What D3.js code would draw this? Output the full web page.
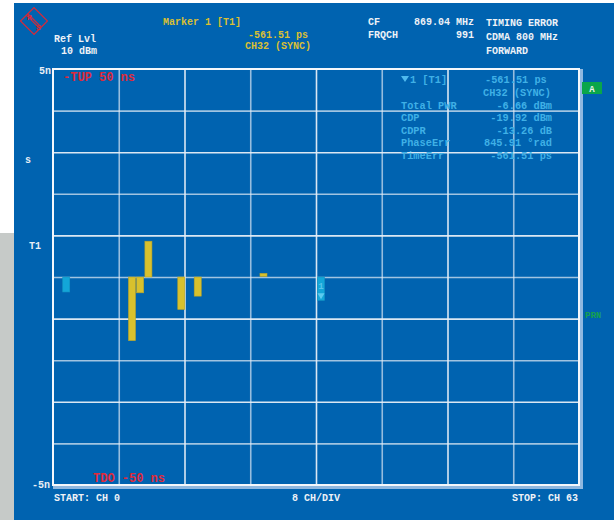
<!DOCTYPE html>
<html>
<head>
<meta charset="utf-8">
<script src="https://cdn.jsdelivr.net/npm/d3@7"></script>
<style>
  html, body { margin: 0; padding: 0; background: #ffffff; }
  svg { display: block; }
  text { font-family: "Liberation Mono", "DejaVu Sans Mono", monospace; font-weight: bold; }
</style>
</head>
<body>
<svg id="chart" width="614" height="520"></svg>
<script>
// Code domain timing error per channel (ns), CDMA 800 MHz forward link
const activeChannels = [1, 9, 10, 11, 15, 17, 25, 32];
const timingErrorNs  = [-0.36, -1.53, -0.38, 0.86, -0.78, -0.46, 0.05, -0.56151];
const channelKind    = ["pilot", "traffic", "traffic", "traffic", "traffic", "traffic", "traffic", "sync"];

const yTickLabels = ["5n", "-5n"];
const headerLeft  = ["Ref Lvl", "10 dBm"];
const markerInfo  = ["Marker 1 [T1]", "-561.51 ps", "CH32 (SYNC)"];
const headerMid   = [["CF", "869.04 MHz"], ["FRQCH", "991"]];
const headerRight = ["TIMING ERROR", "CDMA 800 MHz", "FORWARD"];
const resultNames  = ["Total PWR", "CDP", "CDPR", "PhaseErr", "TimeErr"];
const resultValues = ["-6.66 dBm", "-19.92 dBm", "-13.26 dB", "845.91 °rad", "-561.51 ps"];
const footer = ["START: CH 0", "8 CH/DIV", "STOP: CH 63"];

const svg = d3.select("#chart");
const W = 614, H = 520;
const plot = { left: 53, right: 579, top: 69, bottom: 485 };

// Screen background
svg.append("rect").attr("x", 0).attr("y", 0).attr("width", W).attr("height", H).attr("fill", "#ffffff");
svg.append("rect").attr("x", 0).attr("y", 233).attr("width", 14).attr("height", H - 233).attr("fill", "#c6cac8");
svg.append("rect").attr("x", 14).attr("y", 3).attr("width", W - 14).attr("height", H - 3).attr("fill", "#0063b0");

const x = d3.scaleLinear().domain([0, 64]).range([plot.left, plot.right]);
const y = d3.scaleLinear().domain([-5, 5]).range([plot.bottom, plot.top]);

// Grid: 8 channel divisions, 10 vertical divisions
const grid = svg.append("g");
const xGrid = d3.axisBottom(x).tickValues(d3.range(8, 64, 8)).tickSize(-(plot.bottom - plot.top)).tickFormat("");
const yGrid = d3.axisLeft(y).tickValues(d3.range(-4, 5, 1)).tickSize(-(plot.right - plot.left)).tickFormat("");
grid.append("g").attr("transform", `translate(0,${plot.bottom})`).call(xGrid)
  .call(g => g.select(".domain").remove())
  .selectAll("line").attr("stroke", "#e6eef7").attr("stroke-width", 1.6)
  .attr("stroke-opacity", (d, i) => i % 2 === 0 ? 0.65 : 0.95);
grid.append("g").attr("transform", `translate(${plot.left},0)`).call(yGrid)
  .call(g => g.select(".domain").remove())
  .selectAll("line").attr("stroke", "#e6eef7").attr("stroke-width", 1.6)
  .attr("stroke-opacity", (d, i) => i % 2 === 0 ? 0.7 : 0.95);

// Frame with light edge shading
svg.append("rect").attr("x", plot.right + 1).attr("y", plot.top).attr("width", 3).attr("height", plot.bottom - plot.top + 3).attr("fill", "#8fb8e0");
svg.append("rect").attr("x", plot.left).attr("y", plot.bottom + 1).attr("width", plot.right - plot.left + 4).attr("height", 3).attr("fill", "#8fb8e0");
svg.append("rect").attr("x", plot.left).attr("y", plot.top).attr("width", plot.right - plot.left).attr("height", plot.bottom - plot.top)
  .attr("fill", "none").attr("stroke", "#f4f7fb").attr("stroke-width", 2);

// Channel bars
const colors = { pilot: "#13a6d8", sync: "#13a6d8", traffic: "#d8c12d" };
const bw = x(1) - x(0);
svg.append("g").selectAll("rect").data(activeChannels).join("rect")
  .attr("x", d => x(d) + 1.5)
  .attr("width", bw - 1.2)
  .attr("y", (d, i) => Math.min(y(0), y(timingErrorNs[i])) - (Math.abs(timingErrorNs[i]) < 0.1 ? 1.5 : 0))
  .attr("height", (d, i) => Math.max(3, Math.abs(y(timingErrorNs[i]) - y(0))))
  .attr("fill", (d, i) => colors[channelKind[i]])
  .attr("stroke", (d, i) => channelKind[i] === "traffic" ? "#b9a52a" : "#1596c4")
  .attr("stroke-width", 0.6);

// Marker 1 on the sync channel
const mCh = 32, mVal = timingErrorNs[activeChannels.indexOf(mCh)];
const mx = x(mCh) + 1.5 + (bw - 1.2) / 2;
svg.append("text").attr("x", mx).attr("y", y(mVal) - 11).attr("text-anchor", "middle")
  .attr("font-size", 9).attr("font-weight", "normal").attr("fill", "#56c4ea").text("1");
svg.append("path")
  .attr("d", `M${mx - 3.5},${y(mVal) - 7} L${mx + 3.5},${y(mVal) - 7} L${mx},${y(mVal) - 1} Z`)
  .attr("fill", "#5ccbf0");

// Limit lines text
svg.append("text").attr("x", 63).attr("y", 81).attr("font-size", 12).attr("fill", "#e02a3a").text("-TUP 50 ns");
svg.append("text").attr("x", 93).attr("y", 482).attr("font-size", 12).attr("fill", "#e02a3a").text("TDO -50 ns");

// Result table inside the diagram
const info = svg.append("g").attr("fill", "#3fb0e6").attr("font-size", 10.3);
info.append("path").attr("d", "M401,76 L409,76 L405,82 Z").attr("fill", "#4fbaee");
info.append("text").attr("x", 410).attr("y", 83).text("1 [T1]");
info.append("text").attr("x", 485).attr("y", 83).text(markerInfo[1]);
info.append("text").attr("x", 483).attr("y", 96).text(markerInfo[2]);
resultNames.forEach((n, i) => {
  const yy = 108.5 + i * 12.5;
  info.append("text").attr("x", 401).attr("y", yy).text(n);
  info.append("text").attr("x", 552).attr("y", yy).attr("text-anchor", "end").text(resultValues[i]);
});

// Y labels
const side = svg.append("g").attr("fill", "#e8eef5").attr("font-size", 10);
side.append("text").attr("x", 51).attr("y", 74).attr("text-anchor", "end").text(yTickLabels[0]);
side.append("text").attr("x", 50).attr("y", 488).attr("text-anchor", "end").text(yTickLabels[1]);
side.append("text").attr("x", 25).attr("y", 163).text("s");
side.append("text").attr("x", 29).attr("y", 249).text("T1");

// Header
const hdr = svg.append("g").attr("font-size", 10);
hdr.append("text").attr("x", 54).attr("y", 42).attr("fill", "#eef2f7").text(headerLeft[0]);
hdr.append("text").attr("x", 61).attr("y", 54).attr("fill", "#eef2f7").text(headerLeft[1]);
hdr.append("text").attr("x", 163).attr("y", 25).attr("fill", "#d9bf34").text(markerInfo[0]);
hdr.append("text").attr("x", 308).attr("y", 38).attr("text-anchor", "end").attr("fill", "#d9bf34").text(markerInfo[1]);
hdr.append("text").attr("x", 245).attr("y", 49).attr("fill", "#d9bf34").text(markerInfo[2]);
headerMid.forEach((r, i) => {
  hdr.append("text").attr("x", 368).attr("y", 25 + i * 13).attr("fill", "#eef2f7").text(r[0]);
  hdr.append("text").attr("x", 474).attr("y", 25 + i * 13).attr("text-anchor", "end").attr("fill", "#eef2f7").text(r[1]);
});
headerRight.forEach((t, i) => {
  hdr.append("text").attr("x", 486).attr("y", 26 + i * 14).attr("fill", "#eef2f7").text(t);
});

// Footer
const ft = svg.append("g").attr("font-size", 10).attr("fill", "#eef2f7");
ft.append("text").attr("x", 54).attr("y", 501).text(footer[0]);
ft.append("text").attr("x", 316).attr("y", 501).attr("text-anchor", "middle").text(footer[1]);
ft.append("text").attr("x", 578).attr("y", 501).attr("text-anchor", "end").text(footer[2]);

// Trace indicator and PRN marker
svg.append("rect").attr("x", 582).attr("y", 82).attr("width", 20).attr("height", 12).attr("fill", "#0aa64a");
svg.append("text").attr("x", 592).attr("y", 91.5).attr("text-anchor", "middle").attr("font-size", 9).attr("fill", "#f0f0f0").text("A");
svg.append("text").attr("x", 585).attr("y", 318).attr("font-size", 9).attr("fill", "#16a050").text("PRN");

// R&S logo
const logo = svg.append("g").attr("transform", "translate(34,21) rotate(45)").attr("stroke", "#d42a3a").attr("fill", "none").attr("stroke-width", 1.2);
logo.append("rect").attr("x", -9.5).attr("y", -9.5).attr("width", 19).attr("height", 19);
logo.append("line").attr("x1", -9.5).attr("y1", -0.8).attr("x2", 9.5).attr("y2", -0.8);
logo.append("line").attr("x1", -9.5).attr("y1", 1.2).attr("x2", 9.5).attr("y2", 1.2);
svg.append("text").attr("x", 27).attr("y", 20).attr("font-size", 8).attr("fill", "#d42a3a").attr("font-weight", "normal").text("R");
svg.append("text").attr("x", 36).attr("y", 30).attr("font-size", 8).attr("fill", "#d42a3a").attr("font-weight", "normal").text("S");
</script>
</body>
</html>
